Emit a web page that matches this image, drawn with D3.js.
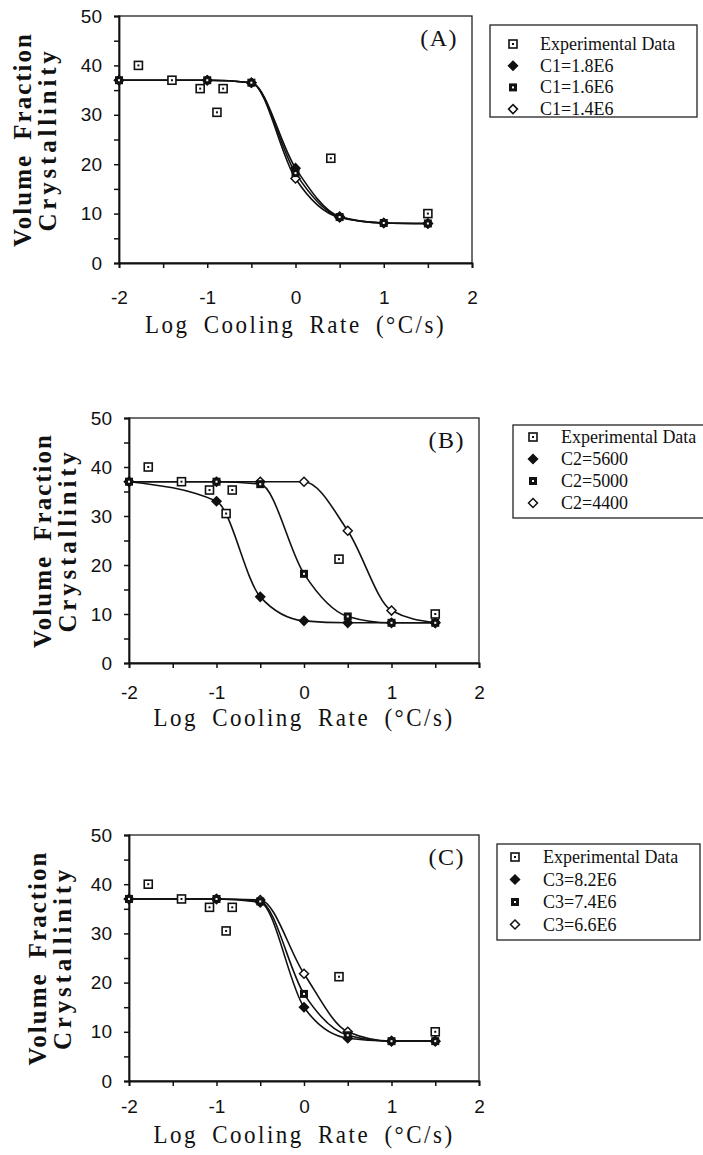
<!DOCTYPE html>
<html>
<head>
<meta charset="utf-8">
<script src="https://cdn.jsdelivr.net/npm/d3@7"></script>
<style>
body { margin: 0; background: #fff; }
svg { display: block; }
</style>
</head>
<body>
<svg width="703" height="1155"></svg>
<script>
// ---- data ----
const xTicks = [-2, -1, 0, 1, 2];
const yTicks = [0, 10, 20, 30, 40, 50];
const modelX = [-2, -1, -0.5, 0, 0.5, 1, 1.5];

const expX = [-1.78, -1.4, -1.08, -0.89, -0.82, 0.4, 1.5];
const expY = [40, 37, 35.3, 30.5, 35.3, 21.2, 10];

const namesA = ["C1=1.8E6", "C1=1.6E6", "C1=1.4E6"];
const seriesA = [
    [37, 37, 36.5, 19.2, 9.4, 8.1, 8.0],
    [37, 37, 36.5, 18.2, 9.3, 8.1, 8.0],
    [37, 37, 36.5, 17.1, 9.2, 8.1, 8.0]
];

const namesB = ["C2=5600", "C2=5000", "C2=4400"];
const seriesB = [
    [37, 33, 13.5, 8.6, 8.2, 8.2, 8.2],
    [37, 37, 36.5, 18.2, 9.5, 8.2, 8.2],
    [37, 37, 37, 37, 27, 10.7, 8.2]
];

const namesC = ["C3=8.2E6", "C3=7.4E6", "C3=6.6E6"];
const seriesC = [
    [37, 37, 36.3, 15, 8.7, 8.1, 8.1],
    [37, 37, 36.5, 17.7, 9.3, 8.1, 8.1],
    [37, 37, 36.8, 21.8, 10, 8.1, 8.1]
];

const panelTags = ["(A)", "(B)", "(C)"];
const expName = "Experimental Data";
const markerKinds = ["diamond", "square", "diamondOpen"];

// ---- layout ----
const layout = [
    {left: 119, right: 472, top: 16, bottom: 263, vf: 31, cr: 56, tickPad: 23, titleDy: 70,
        lg: {x: 490, y: 25, w: 207, h: 92, mx: 513, tx: 540, row0: 44, dy: 21.7}},
    {left: 129, right: 479, top: 418, bottom: 663, vf: 51, cr: 76, tickPad: 18, titleDy: 63,
        lg: {x: 513, y: 425, w: 200, h: 93, mx: 533, tx: 561, row0: 437, dy: 22}},
    {left: 129, right: 479, top: 835, bottom: 1081, vf: 46, cr: 71, tickPad: 14, titleDy: 62,
        lg: {x: 497, y: 844, w: 203, h: 96, mx: 515, tx: 543, row0: 857, dy: 22.5}}
];
const allSeries = [seriesA, seriesB, seriesC];
const allNames = [namesA, namesB, namesC];

const svg = d3.select("svg");
const serif = "'Liberation Serif', 'Times New Roman', serif";
const sans = "'Liberation Sans', Arial, sans-serif";

function drawMarker(g, kind, cx, cy) {
    if (kind == "expt") {
        g.append("rect").attr("x", cx - 4).attr("y", cy - 4).attr("width", 8).attr("height", 8)
            .attr("fill", "#fff").attr("stroke", "#111").attr("stroke-width", 1.6);
        g.append("rect").attr("x", cx - 1).attr("y", cy - 1).attr("width", 2).attr("height", 2)
            .attr("fill", "#111");
    } else if (kind == "square") {
        g.append("rect").attr("x", cx - 4).attr("y", cy - 4).attr("width", 8).attr("height", 8)
            .attr("fill", "#111");
        g.append("rect").attr("x", cx - 1).attr("y", cy - 1).attr("width", 2).attr("height", 2)
            .attr("fill", "#fff");
    } else {
        const r = 4.5;
        g.append("path")
            .attr("d", `M${cx},${cy - r}L${cx + r},${cy}L${cx},${cy + r}L${cx - r},${cy}Z`)
            .attr("fill", kind == "diamond" ? "#111" : "#fff")
            .attr("stroke", "#111").attr("stroke-width", 1.5);
    }
}

layout.forEach((p, i) => {
    const g = svg.append("g");
    const x = d3.scaleLinear().domain([-2, 2]).range([p.left, p.right]);
    const y = d3.scaleLinear().domain([0, 50]).range([p.bottom, p.top]);

    // frame
    g.append("rect")
        .attr("x", p.left).attr("y", p.top)
        .attr("width", p.right - p.left).attr("height", p.bottom - p.top)
        .attr("fill", "none").attr("stroke", "#222").attr("stroke-width", 1.3);

    // axes
    const yAxis = d3.axisLeft(y).tickValues(d3.range(0, 51, 5)).tickSize(5).tickPadding(12)
        .tickFormat(d => yTicks.includes(d) ? d : "");
    const xAxis = d3.axisBottom(x).tickValues(d3.range(-2, 2.01, 0.5)).tickSize(5).tickPadding(p.tickPad)
        .tickFormat(d => xTicks.includes(d) ? d : "");

    const ya = g.append("g").attr("transform", `translate(${p.left},0)`).call(yAxis);
    const xa = g.append("g").attr("transform", `translate(0,${p.bottom})`).call(xAxis);
    [ya, xa].forEach(a => {
        a.select(".domain").attr("stroke", "#111").attr("stroke-width", 1.8);
        a.selectAll(".tick line").attr("stroke", "#111").attr("stroke-width", 1.5);
        a.selectAll("text").attr("font-family", sans).attr("font-size", 19).attr("fill", "#111");
    });

    // axis titles
    g.append("text")
        .attr("transform", `translate(${(p.left + p.right) / 2},${p.bottom + p.titleDy}) scale(1,1.1)`)
        .attr("text-anchor", "middle")
        .attr("font-family", serif).attr("font-size", 23)
        .attr("letter-spacing", 2.5).attr("word-spacing", 6)
        .attr("fill", "#111")
        .text("Log Cooling Rate (°C/s)");

    const cy = (p.top + p.bottom) / 2;
    [["Volume Fraction", p.vf, 2], ["Crystallinity", p.cr, 3.8]].forEach(([t, bx, ls]) => {
        g.append("text")
            .attr("transform", `translate(${bx},${cy}) rotate(-90)`)
            .attr("text-anchor", "middle")
            .attr("font-family", serif).attr("font-weight", "bold").attr("font-size", 25)
            .attr("letter-spacing", ls).attr("word-spacing", 6)
            .attr("fill", "#111")
            .text(t);
    });

    // panel tag
    g.append("text")
        .attr("x", p.right - 14).attr("y", p.top + 30)
        .attr("text-anchor", "end")
        .attr("font-family", serif).attr("font-size", 24).attr("letter-spacing", 1.5)
        .attr("fill", "#111")
        .text(panelTags[i]);

    // model curves
    const line = d3.line()
        .x((d, j) => x(modelX[j]))
        .y(d => y(d))
        .curve(d3.curveMonotoneX);
    allSeries[i].forEach(s => {
        g.append("path").attr("d", line(s))
            .attr("fill", "none").attr("stroke", "#111").attr("stroke-width", 1.6);
    });
    [2, 0, 1].forEach(k => {
        allSeries[i][k].forEach((v, j) => drawMarker(g, markerKinds[k], x(modelX[j]), y(v)));
    });
    expX.forEach((v, j) => drawMarker(g, "expt", x(v), y(expY[j])));

    // legend
    const L = p.lg;
    g.append("rect").attr("x", L.x).attr("y", L.y).attr("width", L.w).attr("height", L.h)
        .attr("fill", "none").attr("stroke", "#222").attr("stroke-width", 1.3);
    const labels = [expName].concat(allNames[i]);
    const kinds = ["expt"].concat(markerKinds);
    labels.forEach((t, j) => {
        const ry = L.row0 + j * L.dy;
        drawMarker(g, kinds[j], L.mx, ry);
        g.append("text")
            .attr("transform", `translate(${L.tx},${ry + 6}) scale(1,1.1)`)
            .attr("font-family", serif).attr("font-size", 18)
            .attr("fill", "#111")
            .text(t);
    });
});
</script>
</body>
</html>
